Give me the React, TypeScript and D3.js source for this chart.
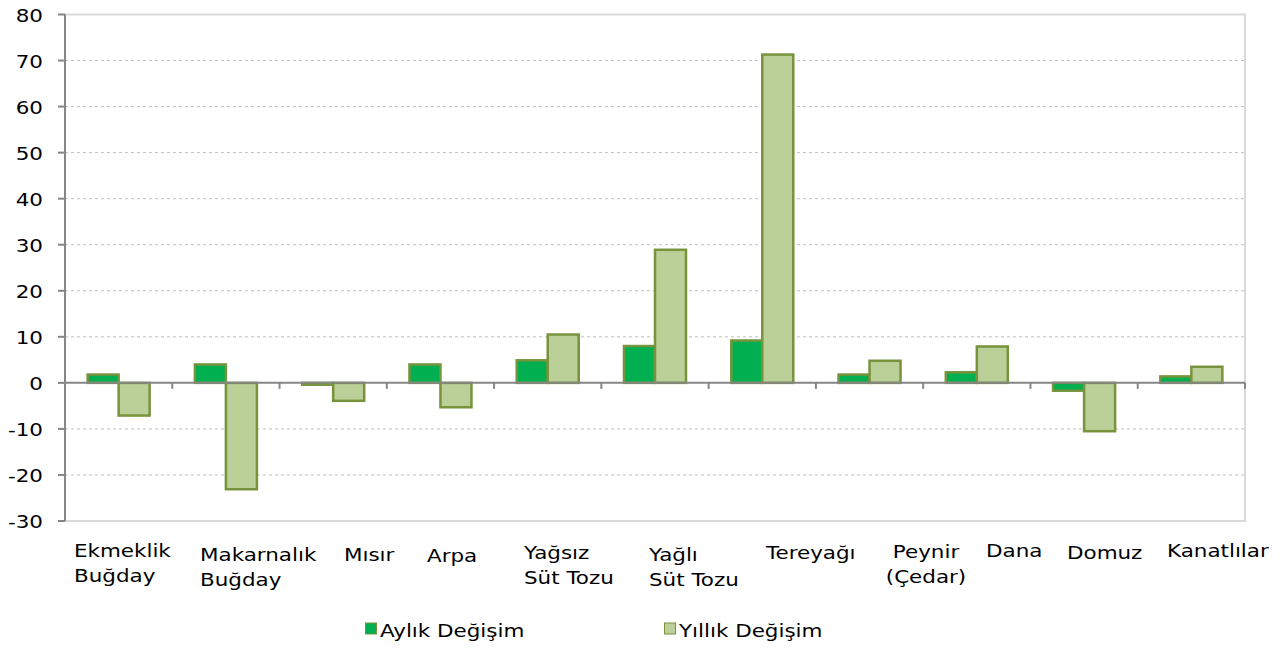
import React from 'react';
import * as d3 from 'd3';

// chart data
const categories = ['Ekmeklik Buğday', 'Makarnalık Buğday', 'Mısır', 'Arpa', 'Yağsız Süt Tozu', 'Yağlı Süt Tozu', 'Tereyağı', 'Peynir (Çedar)', 'Dana', 'Domuz', 'Kanatlılar'];
const labelLines = [['Ekmeklik', 'Buğday'], ['Makarnalık', 'Buğday'], ['Mısır'], ['Arpa'], ['Yağsız', 'Süt Tozu'], ['Yağlı', 'Süt Tozu'], ['Tereyağı'], ['Peynir', '(Çedar)'], ['Dana'], ['Domuz'], ['Kanatlılar']];
const seriesNames = ['Aylık Değişim', 'Yıllık Değişim'];
const aylik = [1.8, 4.0, -0.4, 4.0, 4.9, 8.0, 9.2, 1.8, 2.3, -1.7, 1.4];
const yillik = [-7.1, -23.1, -3.9, -5.3, 10.5, 28.9, 71.3, 4.8, 7.9, -10.5, 3.5];
const yTicks = [-30, -20, -10, 0, 10, 20, 30, 40, 50, 60, 70, 80];

// layout (category label placement, Excel staggers them a bit)
const labelStart = [74, 200, 344, 427, 524, 649, 766, 926, 986, 1067, 1167];
const labelAnchor = ['start', 'start', 'start', 'start', 'start', 'start', 'start', 'middle', 'start', 'start', 'start'];
const labelBase = [557, 561, 561, 562, 559, 561, 559, 558, 557, 559, 557];

const FONT = '"DejaVu Sans", Verdana, sans-serif';
const SX = 1.16; // glyphs in the picture are a bit wider than DejaVu
const fills = ['#00B050', '#BBCF98'];
const STROKE = '#77933C';

const W = 1285, H = 648;
const left = 65, right = 1245, top = 14.5, bottom = 521;

function T(props: { x: number; y: number; anchor?: string; children: React.ReactNode; size?: number }) {
  const { x, y, anchor = 'start', children, size = 18.5 } = props;
  return (
    <text transform={`translate(${x},${y}) scale(${SX},1)`} textAnchor={anchor as any}
      fontFamily={FONT} fontSize={size} fill="#000">{children}</text>
  );
}

export default function App() {
  const x = d3.scaleBand<string>().domain(categories).range([left, right]).paddingInner(0).paddingOuter(0);
  const x1 = d3.scaleBand<string>().domain(seriesNames).range([0, x.bandwidth()]).paddingInner(0).paddingOuter(0.73);
  const y = d3.scaleLinear().domain([-30, 80]).range([bottom, top]);
  const series = [aylik, yillik];

  return (
    <svg width={W} height={H} style={{ position: 'absolute', left: 0, top: 0 }}>
      <rect x={0} y={0} width={W} height={H} fill="#fff" />

      {/* grid lines */}
      {yTicks.filter(t => t !== 0 && t !== -30 && t !== 80).map(t => (
        <line key={'g' + t} x1={left} x2={right} y1={y(t)} y2={y(t)} stroke="#BFBFBF" strokeWidth={1} strokeDasharray="3,3" />
      ))}
      {/* plot border */}
      <path d={`M${left},${y(80)}H${right}V${y(-30)}H${left}`} fill="none" stroke="#D9D9D9" strokeWidth={2} />

      {/* bars */}
      {series.map((vals, si) => vals.map((v, i) => {
        const bx = (x(categories[i]) as number) + (x1(seriesNames[si]) as number);
        const y0 = y(Math.max(0, v)), y1v = y(Math.min(0, v));
        return (
          <rect key={si + '-' + i} x={bx} y={y0} width={x1.bandwidth()} height={Math.max(1, y1v - y0)}
            fill={fills[si]} stroke={STROKE} strokeWidth={2.5} />
        );
      }))}

      {/* zero line with category ticks */}
      <line x1={left} x2={right} y1={y(0)} y2={y(0)} stroke="#868686" strokeWidth={2} />
      {categories.map((c, i) => {
        const tx = (x(c) as number) + x.bandwidth();
        return <line key={'ct' + i} x1={tx} x2={tx} y1={y(0)} y2={y(0) + 6} stroke="#868686" strokeWidth={2} />;
      })}

      {/* y axis */}
      <line x1={left} x2={left} y1={y(80)} y2={y(-30)} stroke="#868686" strokeWidth={2} />
      {yTicks.map(t => (
        <g key={'yt' + t}>
          <line x1={left - 7} x2={left} y1={y(t)} y2={y(t)} stroke="#868686" strokeWidth={2} />
          <T x={43} y={y(t) + 7} anchor="end">{String(t)}</T>
        </g>
      ))}

      {/* category labels */}
      {labelLines.map((lines, i) => (
        <g key={'cl' + i}>
          {lines.map((ln, j) => (
            <T key={j} x={labelStart[i]} y={labelBase[i] + j * 25} anchor={labelAnchor[i]}>{ln}</T>
          ))}
        </g>
      ))}

      {/* legend */}
      {seriesNames.map((s, i) => {
        const lx = i === 0 ? 365 : 664;
        return (
          <g key={'lg' + i}>
            <rect x={lx + 0.5} y={623} width={11} height={11} fill={fills[i]} stroke={STROKE} strokeWidth={1} />
            <T x={lx + 15} y={636.5}>{s}</T>
          </g>
        );
      })}
    </svg>
  );
}
